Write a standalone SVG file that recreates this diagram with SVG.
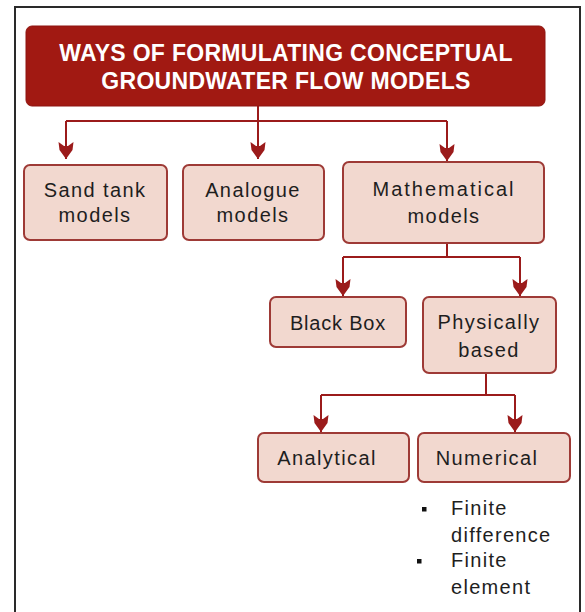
<svg xmlns="http://www.w3.org/2000/svg" width="585" height="612" viewBox="0 0 585 612">
<style>
.frame{fill:#ffffff;stroke:#2a2a2a;stroke-width:2}
.title{fill:#A11912;stroke:#8e1510;stroke-width:1}
.ttl{font-family:"Liberation Sans",Arial,sans-serif;font-weight:bold;font-size:23px;fill:#ffffff;text-anchor:middle;letter-spacing:0.3px}
.box{fill:#F2D8CF;stroke:#9E3A36;stroke-width:2}
.lbl{font-family:"Liberation Sans",Arial,sans-serif;font-size:20px;fill:#1e1e1e;text-anchor:middle;letter-spacing:1.4px}
.bl{font-family:"Liberation Sans",Arial,sans-serif;font-size:20px;fill:#1e1e1e;letter-spacing:1.3px}
.con{fill:none;stroke:#9B1B1B;stroke-width:2}
.arr{marker-end:url(#ah)}
</style>
<defs>
<marker id="ah" viewBox="-18 -9 19 18" refX="0" refY="0" markerWidth="19" markerHeight="18" markerUnits="userSpaceOnUse" orient="auto">
<path d="M0,0 L-9,-6.5 L-17,-7.5 L-13,-2 L-13,2 L-17,7.5 L-9,6.5 Z" fill="#9B1B1B"/>
</marker>
</defs>
<rect class="frame" x="15" y="7" width="565" height="630"/>

<g id="connectors">
<path class="con" d="M258,106 V121 M66,121 H447"/>
<path class="con arr" d="M66,121 V159"/>
<path class="con arr" d="M258,121 V159"/>
<path class="con arr" d="M447,121 V161"/>
<path class="con" d="M447,243 V257 M343,257 H520"/>
<path class="con arr" d="M343,257 V296"/>
<path class="con arr" d="M520,257 V296"/>
<path class="con" d="M486,373 V395 M321,395 H515"/>
<path class="con arr" d="M321,395 V432"/>
<path class="con arr" d="M515,395 V432"/>
</g>

<g id="title">
<rect class="title" x="26" y="26" width="519" height="80" rx="6"/>
<text class="ttl" x="286" y="61">WAYS OF FORMULATING CONCEPTUAL</text>
<text class="ttl" x="286" y="89">GROUNDWATER FLOW MODELS</text>
</g>

<g id="sand-tank">
<rect class="box" x="24" y="165" width="143" height="75" rx="6"/>
<text class="lbl" x="95" y="197">Sand tank</text>
<text class="lbl" x="95" y="222">models</text>
</g>

<g id="analogue">
<rect class="box" x="183" y="165" width="141" height="75" rx="6"/>
<text class="lbl" x="253" y="197">Analogue</text>
<text class="lbl" x="253" y="222">models</text>
</g>

<g id="mathematical">
<rect class="box" x="343" y="162" width="201" height="81" rx="6"/>
<text class="lbl" x="444" y="196" style="letter-spacing:2px">Mathematical</text>
<text class="lbl" x="444" y="223">models</text>
</g>

<g id="black-box">
<rect class="box" x="270" y="297" width="136" height="50" rx="6"/>
<text class="lbl" x="338" y="330" style="letter-spacing:0.8px">Black Box</text>
</g>

<g id="physically-based">
<rect class="box" x="423" y="297" width="133" height="76" rx="6"/>
<text class="lbl" x="489" y="329">Physically</text>
<text class="lbl" x="489" y="357">based</text>
</g>

<g id="analytical">
<rect class="box" x="258" y="433" width="151" height="49" rx="6"/>
<text class="lbl" x="327" y="465">Analytical</text>
</g>

<g id="numerical">
<rect class="box" x="418" y="433" width="152" height="49" rx="6"/>
<text class="lbl" x="487" y="465">Numerical</text>
</g>

<g id="numerical-methods">
<rect x="422" y="507" width="4.5" height="4.5" fill="#111"/>
<rect x="417" y="559" width="4.5" height="4.5" fill="#111"/>
<text class="bl" x="451" y="515">Finite</text>
<text class="bl" x="451" y="542">difference</text>
<text class="bl" x="451" y="567">Finite</text>
<text class="bl" x="451" y="594">element</text>
</g>
</svg>
